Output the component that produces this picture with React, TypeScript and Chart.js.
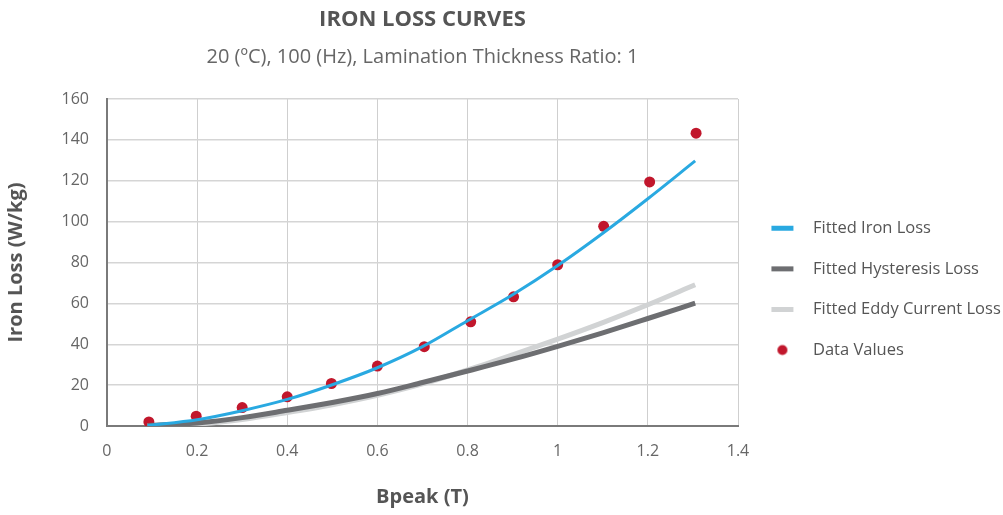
import React, { useEffect, useRef } from 'react';
import { Chart, registerables } from 'chart.js';

Chart.register(...registerables);
Chart.defaults.font.family = "'Open Sans', sans-serif";

const TITLE = 'IRON LOSS CURVES';
const SUBTITLE = '20 (ºC), 100 (Hz), Lamination Thickness Ratio: 1';
const X_TITLE = 'Bpeak (T)';
const Y_TITLE = 'Iron Loss (W/kg)';

const X_TICKS = [0, 0.2, 0.4, 0.6, 0.8, 1, 1.2, 1.4];
const X_TICK_LABELS = ['0', '0.2', '0.4', '0.6', '0.8', '1', '1.2', '1.4'];
const Y_TICKS = [0, 20, 40, 60, 80, 100, 120, 140, 160];
const Y_TICK_LABELS = ['0', '20', '40', '60', '80', '100', '120', '140', '160'];

const SERIES_NAMES = ['Fitted Iron Loss', 'Fitted Hysteresis Loss', 'Fitted Eddy Current Loss', 'Data Values'];

const dataB = [0.093, 0.198, 0.3, 0.4, 0.498, 0.6, 0.704, 0.807, 0.902, 1.0, 1.102, 1.204, 1.307];
const dataLoss = [2.0, 4.8, 9, 14.3, 20.8, 29.3, 38.8, 51, 63.2, 78.9, 97.7, 119.4, 143.3];

const fitB = [0.09, 0.2, 0.3, 0.4, 0.5, 0.6, 0.7, 0.8, 0.9, 1.0, 1.1, 1.2, 1.305];
const fitIron = [0.3, 3.1, 7.5, 13, 20.2, 28.5, 38.8, 51.5, 64.2, 78.5, 94.3, 111.2, 129.7];
const fitHysteresis = [0.2, 1.5, 4.1, 7.7, 11.5, 15.9, 21.3, 26.9, 32.7, 39.0, 45.6, 52.6, 60.1];
const fitEddy = [0.1, 0.9, 3.2, 6.6, 10.4, 15, 20.6, 27.4, 34.8, 42.5, 50.6, 59.3, 69.1];

const COLORS = ['#29a9e1', '#6d6e71', '#d1d3d4', '#c1172c'];

function makeSwatch(kind: 'line' | 'dot', color: string) {
  const c = document.createElement('canvas');
  c.width = 42;
  c.height = 13;
  const g = c.getContext('2d')!;
  g.fillStyle = color;
  if (kind === 'line') {
    g.fillRect(9, 4, 22, 5);
  } else {
    g.beginPath();
    g.arc(20, 6.5, 5, 0, Math.PI * 2);
    g.fill();
  }
  return c;
}

const toXY = (xs: number[], ys: number[]) => xs.map((x, i) => ({ x, y: ys[i] }));

export default function App() {
  const ref = useRef<HTMLCanvasElement>(null);

  useEffect(() => {
    if (!ref.current) return;
    const swatches = [
      makeSwatch('line', COLORS[0]),
      makeSwatch('line', COLORS[1]),
      makeSwatch('line', COLORS[2]),
      makeSwatch('dot', COLORS[3]),
    ];
    const defaultGen = Chart.defaults.plugins.legend.labels.generateLabels;
    const chart = new Chart(ref.current, {
      type: 'line',
      data: {
        datasets: [
          {
            label: SERIES_NAMES[0],
            data: toXY(fitB, fitIron),
            borderColor: COLORS[0],
            backgroundColor: COLORS[0],
            borderWidth: 3,
            pointRadius: 0,
            tension: 0.4,
            cubicInterpolationMode: 'monotone',
            order: 0,
          },
          {
            label: SERIES_NAMES[1],
            data: toXY(fitB, fitHysteresis),
            borderColor: COLORS[1],
            backgroundColor: COLORS[1],
            borderWidth: 5,
            pointRadius: 0,
            tension: 0.4,
            cubicInterpolationMode: 'monotone',
            order: 1,
          },
          {
            label: SERIES_NAMES[2],
            data: toXY(fitB, fitEddy),
            borderColor: COLORS[2],
            backgroundColor: COLORS[2],
            borderWidth: 5,
            pointRadius: 0,
            tension: 0.4,
            cubicInterpolationMode: 'monotone',
            order: 2,
          },
          {
            label: SERIES_NAMES[3],
            data: toXY(dataB, dataLoss),
            showLine: false,
            borderColor: COLORS[3],
            backgroundColor: COLORS[3],
            borderWidth: 0,
            pointRadius: 5.5,
            pointHoverRadius: 5.5,
            order: 3,
          },
        ],
      },
      options: {
        animation: false,
        responsive: false,
        layout: { padding: { left: 0, right: 0, top: 0, bottom: 0 } },
        plugins: {
          title: {
            display: true,
            text: TITLE,
            fullSize: false,
            color: '#555555',
            font: { size: 22, weight: 'bold' },
            padding: { top: 6.2, bottom: 12.9 },
          },
          subtitle: {
            display: true,
            text: SUBTITLE,
            fullSize: false,
            color: '#666666',
            font: { size: 20 },
            padding: { top: 0, bottom: 29.5 },
          },
          legend: {
            position: 'right',
            align: 'center',
            maxWidth: 265,
            title: { display: true, text: '', font: { size: 12, lineHeight: '63.3px' } },
            labels: {
              usePointStyle: true,
              pointStyleWidth: 42.6,
              padding: 24.1,
              color: '#555555',
              font: { size: 16.5 },
              generateLabels: (ch: any) => {
                const items = defaultGen(ch);
                items.forEach((it: any) => {
                  it.pointStyle = swatches[it.datasetIndex];
                  it.lineWidth = 0;
                });
                return items;
              },
            },
          },
          tooltip: { enabled: false },
        },
        scales: {
          x: {
            type: 'linear',
            min: 0,
            max: 1.4,
            afterBuildTicks: (s: any) => {
              s.ticks = X_TICKS.map((v) => ({ value: v }));
            },
            ticks: {
              autoSkip: false,
              maxRotation: 0,
              color: '#666666',
              font: { size: 16 },
              padding: 15.4,
              callback: (v: any) => X_TICK_LABELS[X_TICKS.indexOf(v)],
            },
            grid: { color: '#cfcfcf', lineWidth: 1, drawTicks: false },
            border: { color: '#7a7a7a', width: 2 },
            title: {
              display: true,
              text: X_TITLE,
              color: '#555555',
              font: { size: 20, weight: 'bold' },
              padding: { top: 9.5, bottom: 5.5 },
            },
          },
          y: {
            type: 'linear',
            min: 0,
            max: 160,
            afterBuildTicks: (s: any) => {
              s.ticks = Y_TICKS.map((v) => ({ value: v }));
            },
            ticks: {
              autoSkip: false,
              color: '#666666',
              font: { size: 16 },
              padding: 18,
              callback: (v: any) => Y_TICK_LABELS[Y_TICKS.indexOf(v)],
            },
            grid: { color: '#d5d5d5', lineWidth: 1.5, drawTicks: false },
            border: { color: '#7a7a7a', width: 2 },
            title: {
              display: true,
              text: Y_TITLE,
              color: '#555555',
              font: { size: 20, weight: 'bold' },
              padding: { top: 4, bottom: 15.5 },
            },
          },
        },
      },
    } as any);
    return () => chart.destroy();
  }, []);

  return (
    <div style={{ position: 'absolute', left: 0, top: 0, width: 1003, height: 515, background: '#fff' }}>
      <canvas ref={ref} width={1003} height={515} style={{ display: 'block' }} />
    </div>
  );
}
